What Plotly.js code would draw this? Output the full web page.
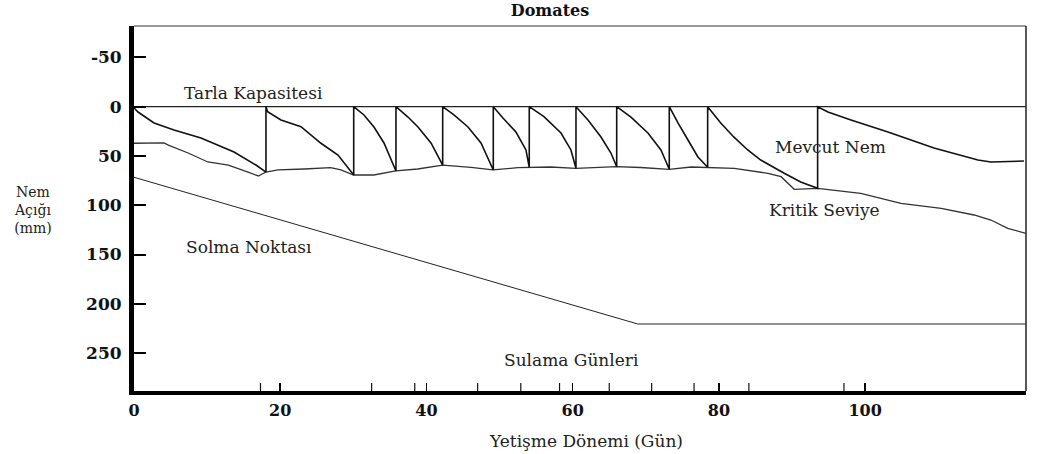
<!DOCTYPE html>
<html>
<head>
<meta charset="utf-8">
<script src="https://cdn.plot.ly/plotly-3.0.1.min.js"></script>
<style>
  html, body { margin: 0; padding: 0; background: #fff; }
  #chart { width: 1038px; height: 454px; }
</style>
</head>
<body>
<div id="chart"></div>
<script>
// ---- Data (x: gün / day, y: nem açığı mm) ----
const tarlaGun = [0, 122];
const tarlaMm  = [0, 0];

const solmaGun = [0, 68.9, 122];
const solmaMm  = [71.6, 220.5, 220.5];

const kritikGun = [0, 4.1, 4.7, 7.4, 10.1, 12.9, 15.6, 17.0, 18.05, 19.7, 23.3, 26.9, 28.3, 30.05, 32.8, 35.8, 38.8, 42.2, 46.1, 49.1, 52.5, 54.1, 57.0, 60.45, 63.9, 66.0, 69.3, 73.2, 76.2, 78.5, 82.1, 86.7, 88.5, 90.3, 93.5, 99.4, 104.9, 110.4, 114.9, 117.2, 119.5, 122.0];
const kritikMm  = [37.1, 36.8, 38.9, 47.0, 56.1, 59.2, 66.3, 70.3, 66.3, 64.2, 63.2, 61.9, 64.2, 69.3, 69.3, 65.2, 63.2, 59.2, 61.5, 64.2, 61.9, 61.5, 61.2, 62.5, 61.2, 60.9, 61.7, 63.5, 61.2, 61.5, 62.5, 67.6, 71.0, 83.8, 82.8, 87.9, 98.0, 103.1, 109.9, 115.0, 123.4, 128.5];

const nemGun = [0, 0.55, 2.74, 5.47, 9.16, 13.68, 16.68, 18.05,
  18.05, 18.28, 20.1, 22.84, 25.57, 27.9, 30.05,
  30.05, 31.45, 32.82, 34.19, 35.83,
  35.83, 37.47, 38.84, 40.62, 42.22,
  42.22, 43.76, 45.68, 47.46, 49.14,
  49.14, 50.46, 52.24, 53.61, 54.06,
  54.06, 56.07, 58.4, 59.76, 60.45,
  60.45, 62.09, 63.87, 65.23, 66.02,
  66.02, 67.97, 70.29, 72.07, 73.21,
  73.21, 74.4, 75.77, 77.13, 78.46,
  78.46, 80.25, 82.03, 83.94, 85.72, 88.87, 91.19, 93.5,
  93.5, 94.91, 98.06, 103.12, 109.41, 115.43, 117.2, 121.72];
const nemMm = [1.3, 5.4, 16.5, 23.6, 31.8, 46.0, 59.2, 66.3,
  0, 5.1, 13.5, 20.3, 37.1, 49.0, 69.3,
  0, 8.4, 20.6, 36.8, 65.2,
  0, 10.5, 20.6, 36.8, 59.2,
  0, 8.4, 20.6, 36.8, 64.2,
  0, 11.5, 25.7, 43.9, 61.5,
  0, 10.1, 26.7, 43.9, 62.5,
  0, 13.5, 30.7, 47.0, 60.9,
  0, 10.5, 26.7, 43.9, 63.5,
  0, 16.5, 33.8, 51.0, 61.5,
  0, 16.5, 30.7, 43.9, 54.1, 67.3, 76.4, 82.8,
  0, 5.4, 13.5, 25.7, 41.9, 54.1, 56.1, 55.1];

const sulamaGunleri = [17.3, 32.5, 38.4, 47.0, 52.9, 58.2, 65.0, 70.8, 76.6, 84.1, 97.1];

const xTickVals = [0, 20, 40, 60, 80, 100];
const xTickText = ['0', '20', '40', '60', '80', '100'];
const yTickVals = [-50, 0, 50, 100, 150, 200, 250];
const yTickText = ['-50', '0', '50', '100', '150', '200', '250'];

// ---- Plot ----
const SERIF = 'DejaVu Serif, Liberation Serif, serif';
const lineStyle = (w, c) => ({ color: c, width: w, shape: 'linear' });

const traces = [
  { x: tarlaGun, y: tarlaMm, mode: 'lines', line: lineStyle(1.2, '#222'), hoverinfo: 'skip', showlegend: false },
  { x: solmaGun, y: solmaMm, mode: 'lines', line: lineStyle(1, '#222'), hoverinfo: 'skip', showlegend: false },
  { x: kritikGun, y: kritikMm, mode: 'lines', line: lineStyle(1.3, '#333'), hoverinfo: 'skip', showlegend: false },
  { x: nemGun, y: nemMm, mode: 'lines', line: lineStyle(1.6, '#111'), hoverinfo: 'skip', showlegend: false }
];

const shapes = [
  { type: 'line', xref: 'paper', yref: 'paper', x0: 0, x1: 1, y0: 1, y1: 1, line: { color: '#333', width: 1.2 } },
  { type: 'line', xref: 'paper', yref: 'paper', x0: 1, x1: 1, y0: 0, y1: 1, line: { color: '#222', width: 1.5 } }
];
sulamaGunleri.forEach(g => shapes.push({
  type: 'line', xref: 'x', yref: 'paper', x0: g, x1: g, y0: 0, y1: 0.022,
  line: { color: '#111', width: 1.2 }
}));

const txt = { family: SERIF, size: 17, color: '#222' };
const annotations = [
  { text: 'Tarla Kapasitesi', x: 16.35, y: -13.9, xref: 'x', yref: 'y', xanchor: 'center', showarrow: false, font: txt },
  { text: 'Mevcut Nem', x: 95.2, y: 40.9, xref: 'x', yref: 'y', xanchor: 'center', showarrow: false, font: txt },
  { text: 'Kritik Seviye', x: 94.5, y: 104.8, xref: 'x', yref: 'y', xanchor: 'center', showarrow: false, font: txt },
  { text: 'Solma Noktası', x: 15.7, y: 142.3, xref: 'x', yref: 'y', xanchor: 'center', showarrow: false, font: txt },
  { text: 'Sulama Günleri', x: 59.9, y: 257.5, xref: 'x', yref: 'y', xanchor: 'center', showarrow: false, font: txt },
  { text: 'Yetişme Dönemi (Gün)', x: 0.5067, y: -0.138, xref: 'paper', yref: 'paper', xanchor: 'center', yanchor: 'middle', showarrow: false, font: { family: SERIF, size: 17, color: '#222' } },
  { text: 'Nem<br>Açığı<br>(mm)', x: -0.1132, y: 0.495, xref: 'paper', yref: 'paper', xanchor: 'center', yanchor: 'middle', align: 'center', showarrow: false, font: { family: SERIF, size: 14, color: '#222' } }
];

const layout = {
  width: 1038, height: 454,
  margin: { l: 134, r: 12, t: 26, b: 63 },
  paper_bgcolor: '#fff', plot_bgcolor: '#fff',
  title: {
    text: 'Domates', font: { family: SERIF, size: 16, weight: 'bold', color: '#111' },
    x: 550 / 1038, xref: 'container', xanchor: 'center',
    y: 1 - 10 / 454, yref: 'container', yanchor: 'middle'
  },
  xaxis: {
    range: [0, 122], showgrid: false, zeroline: false,
    showline: true, linewidth: 4, linecolor: '#000',
    ticks: 'inside', ticklen: 8, tickwidth: 1.5, tickcolor: '#000',
    tickvals: xTickVals, ticktext: xTickText,
    ticklabelstandoff: 2,
    tickfont: { family: SERIF, size: 16, weight: 'bold', color: '#111' }
  },
  yaxis: {
    range: [288.5, -81.9], showgrid: false, zeroline: false,
    showline: true, linewidth: 5, linecolor: '#000',
    ticks: 'inside', ticklen: 12, tickwidth: 2, tickcolor: '#000',
    tickvals: yTickVals, ticktext: yTickText,
    ticklabelstandoff: 4,
    tickfont: { family: SERIF, size: 17, weight: 'bold', color: '#111' }
  },
  shapes: shapes,
  annotations: annotations,
  showlegend: false
};

Plotly.newPlot('chart', traces, layout, { displayModeBar: false, staticPlot: true });
</script>
</body>
</html>
